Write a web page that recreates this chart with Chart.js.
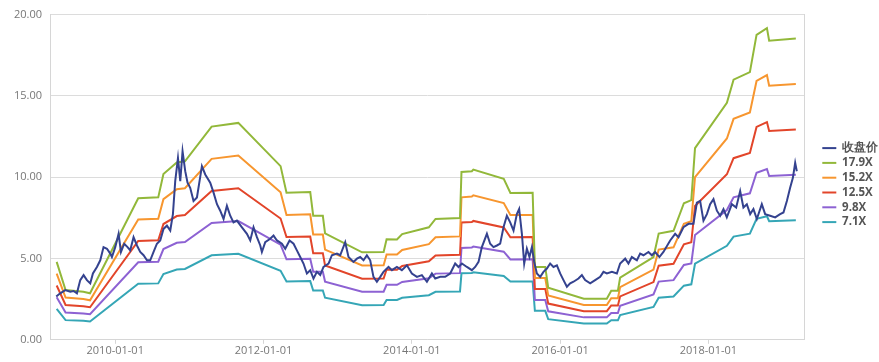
<!DOCTYPE html>
<html>
<head>
<meta charset="utf-8">
<script src="https://cdn.jsdelivr.net/npm/chart.js@4.4.1/dist/chart.umd.min.js"></script>
<style>
  body { margin: 0; background: #fff; }
</style>
</head>
<body>
<canvas id="peBand" width="879" height="362"></canvas>
<script>
// close price, x in decimal years
let closeDates = [2009.204, 2009.258, 2009.326, 2009.393, 2009.438, 2009.483, 2009.528, 2009.573, 2009.618, 2009.663,
  2009.699, 2009.753, 2009.798, 2009.842, 2009.888, 2009.933, 2009.955, 2010.000, 2010.045, 2010.077,
  2010.121, 2010.166, 2010.202, 2010.247, 2010.293, 2010.337, 2010.382, 2010.428, 2010.472, 2010.517,
  2010.562, 2010.607, 2010.651, 2010.697, 2010.742, 2010.778, 2010.809, 2010.846, 2010.877, 2010.908,
  2010.944, 2010.975, 2011.011, 2011.056, 2011.102, 2011.137, 2011.169, 2011.214, 2011.281, 2011.326,
  2011.372, 2011.416, 2011.461, 2011.506, 2011.551, 2011.595, 2011.641, 2011.709, 2011.776, 2011.821,
  2011.865, 2011.911, 2011.956, 2011.978, 2012.023, 2012.090, 2012.135, 2012.181, 2012.248, 2012.293,
  2012.351, 2012.405, 2012.450, 2012.495, 2012.539, 2012.585, 2012.630, 2012.674, 2012.720, 2012.765,
  2012.809, 2012.877, 2012.922, 2012.990, 2013.034, 2013.102, 2013.146, 2013.214, 2013.260, 2013.304,
  2013.349, 2013.394, 2013.439, 2013.483, 2013.529, 2013.574, 2013.618, 2013.686, 2013.732, 2013.799,
  2013.866, 2013.934, 2014.001, 2014.069, 2014.136, 2014.204, 2014.271, 2014.316, 2014.383, 2014.450,
  2014.518, 2014.585, 2014.630, 2014.676, 2014.743, 2014.810, 2014.855, 2014.900, 2014.945, 2015.013,
  2015.057, 2015.102, 2015.148, 2015.192, 2015.237, 2015.282, 2015.327, 2015.372, 2015.417, 2015.448,
  2015.485, 2015.516, 2015.552, 2015.587, 2015.620, 2015.651, 2015.687, 2015.732, 2015.776, 2015.822,
  2015.866, 2015.911, 2015.957, 2016.001, 2016.046, 2016.092, 2016.136, 2016.181, 2016.248, 2016.294,
  2016.338, 2016.406, 2016.473, 2016.541, 2016.585, 2016.631, 2016.699, 2016.766, 2016.810, 2016.878,
  2016.922, 2016.968, 2017.036, 2017.080, 2017.125, 2017.192, 2017.238, 2017.282, 2017.340, 2017.394,
  2017.485, 2017.552, 2017.597, 2017.664, 2017.732, 2017.799, 2017.845, 2017.889, 2017.934, 2017.980,
  2018.024, 2018.069, 2018.115, 2018.159, 2018.204, 2018.249, 2018.317, 2018.375, 2018.429, 2018.473,
  2018.519, 2018.564, 2018.608, 2018.654, 2018.721, 2018.766, 2018.833, 2018.901, 2018.968, 2019.013,
  2019.059, 2019.103, 2019.140, 2019.171, 2019.193];
let closePrices = [2.66, 2.86, 3.06, 2.96, 3.00, 2.86, 3.67, 3.98, 3.67, 3.47,
  4.08, 4.48, 4.89, 5.70, 5.60, 5.30, 5.09, 5.70, 6.52, 5.40,
  5.91, 5.70, 5.50, 6.31, 5.80, 5.40, 5.20, 4.89, 4.89, 5.40,
  5.91, 6.11, 6.82, 7.02, 6.72, 7.73, 9.76, 11.18, 9.76, 11.59,
  10.37, 9.66, 9.35, 8.54, 8.75, 9.76, 10.68, 10.17, 9.66, 9.05,
  8.34, 7.94, 7.43, 8.24, 7.63, 7.22, 7.33, 6.92, 6.52, 6.11,
  6.92, 6.31, 5.80, 5.40, 6.00, 6.21, 6.41, 6.11, 5.91, 5.60,
  6.11, 5.91, 5.50, 5.09, 4.69, 4.08, 4.28, 3.77, 4.18, 3.98,
  4.48, 4.69, 5.20, 5.30, 5.20, 6.00, 5.09, 4.79, 4.99, 5.09,
  4.89, 5.20, 4.89, 3.87, 3.57, 3.87, 4.18, 4.48, 4.28, 4.48,
  4.28, 4.58, 4.08, 3.87, 3.98, 3.57, 4.08, 3.77, 3.87, 3.87,
  4.08, 4.69, 4.48, 4.69, 4.48, 4.28, 4.48, 4.79, 5.70, 6.52,
  5.91, 5.70, 5.80, 5.91, 6.92, 7.63, 7.22, 6.72, 7.73, 8.04,
  6.52, 4.69, 5.60, 5.09, 5.70, 4.79, 4.08, 3.87, 4.18, 4.38,
  4.69, 4.48, 4.58, 4.08, 3.67, 3.26, 3.47, 3.57, 3.77, 3.98,
  3.67, 3.47, 3.67, 3.87, 4.18, 4.08, 4.18, 4.08, 4.69, 4.99,
  4.69, 5.09, 4.89, 5.30, 5.20, 5.40, 5.20, 5.40, 5.09, 5.40,
  6.11, 6.52, 6.31, 6.92, 7.13, 7.13, 8.44, 8.54, 7.33, 7.73,
  8.34, 8.65, 7.94, 7.63, 8.04, 7.53, 8.34, 8.14, 9.15, 8.14,
  8.34, 7.73, 8.04, 7.43, 8.34, 7.73, 7.63, 7.53, 7.73, 7.83,
  8.54, 9.35, 9.96, 10.88, 10.37];

// PE band lines, x in decimal years
let bandDates = [2009.21, 2009.33, 2009.57, 2009.66, 2010.31, 2010.58, 2010.65, 2010.83, 2010.94, 2011.30,
  2011.66, 2012.23, 2012.31, 2012.63, 2012.67, 2012.80, 2012.83, 2013.33, 2013.62, 2013.66,
  2013.80, 2013.87, 2014.23, 2014.32, 2014.65, 2014.67, 2014.81, 2014.83, 2015.24, 2015.33,
  2015.63, 2015.66, 2015.80, 2015.84, 2016.32, 2016.63, 2016.69, 2016.78, 2016.81, 2017.26,
  2017.33, 2017.53, 2017.67, 2017.77, 2017.82, 2018.25, 2018.34, 2018.56, 2018.65, 2018.79,
  2018.82, 2019.18];
let band179 = [4.79, 3.06, 2.96, 2.86, 8.71, 8.76, 10.19, 10.90, 10.98, 13.11,
  13.34, 10.68, 9.05, 9.09, 7.63, 7.63, 6.54, 5.38, 5.40, 6.18,
  6.17, 6.50, 6.92, 7.43, 7.49, 10.32, 10.37, 10.47, 9.90, 9.03,
  9.05, 4.48, 4.48, 3.20, 2.52, 2.52, 3.02, 3.02, 3.82, 5.09,
  6.53, 6.70, 8.40, 8.59, 11.79, 14.58, 16.00, 16.46, 18.75, 19.17,
  18.39, 18.53];
let band152 = [4.07, 2.60, 2.51, 2.43, 7.40, 7.44, 8.65, 9.26, 9.32, 11.13,
  11.33, 9.07, 7.68, 7.72, 6.48, 6.48, 5.55, 4.57, 4.59, 5.25,
  5.24, 5.52, 5.88, 6.31, 6.36, 8.76, 8.81, 8.89, 8.41, 7.67,
  7.68, 3.80, 3.80, 2.72, 2.14, 2.14, 2.56, 2.56, 3.24, 4.32,
  5.55, 5.69, 7.13, 7.29, 10.01, 12.38, 13.59, 13.98, 15.92, 16.28,
  15.62, 15.73];
let band125 = [3.34, 2.14, 2.07, 2.00, 6.08, 6.12, 7.12, 7.61, 7.67, 9.15,
  9.32, 7.46, 6.32, 6.35, 5.33, 5.33, 4.57, 3.76, 3.77, 4.32,
  4.31, 4.54, 4.83, 5.19, 5.23, 7.21, 7.24, 7.31, 6.91, 6.31,
  6.32, 3.13, 3.13, 2.23, 1.76, 1.76, 2.11, 2.11, 2.67, 3.55,
  4.56, 4.68, 5.87, 6.00, 8.23, 10.18, 11.17, 11.49, 13.09, 13.39,
  12.84, 12.94];
let band98 = [2.62, 1.68, 1.62, 1.57, 4.77, 4.80, 5.58, 5.97, 6.01, 7.18,
  7.30, 5.85, 4.95, 4.98, 4.18, 4.18, 3.58, 2.95, 2.96, 3.38,
  3.38, 3.56, 3.79, 4.07, 4.10, 5.65, 5.68, 5.73, 5.42, 4.94,
  4.95, 2.45, 2.45, 1.75, 1.38, 1.38, 1.65, 1.65, 2.09, 2.79,
  3.58, 3.67, 4.60, 4.70, 6.45, 7.98, 8.76, 9.01, 10.27, 10.50,
  10.07, 10.15];
let band71 = [1.90, 1.21, 1.17, 1.13, 3.45, 3.47, 4.04, 4.32, 4.36, 5.20,
  5.29, 4.24, 3.59, 3.61, 3.03, 3.03, 2.59, 2.13, 2.14, 2.45,
  2.45, 2.58, 2.74, 2.95, 2.97, 4.09, 4.11, 4.15, 3.93, 3.58,
  3.59, 1.78, 1.78, 1.27, 1.00, 1.00, 1.20, 1.20, 1.52, 2.02,
  2.59, 2.66, 3.33, 3.41, 4.68, 5.78, 6.35, 6.53, 7.44, 7.60,
  7.29, 7.35];

let xTicks = [2010, 2012, 2014, 2016, 2018];

function toPoints(xs, ys) {
  return xs.map((x, i) => ({ x: x, y: ys[i] }));
}

function lineSet(label, xs, ys, color) {
  return {
    label: label,
    data: toPoints(xs, ys),
    borderColor: color,
    backgroundColor: color,
    borderWidth: 2,
    pointRadius: 0,
    tension: 0
  };
}

let ctx = document.getElementById('peBand');
let peChart = new Chart(ctx, {
  type: 'line',
  data: {
    datasets: [
      lineSet('收盘价', closeDates, closePrices, '#34428f'),
      lineSet('17.9X', bandDates, band179, '#92b83a'),
      lineSet('15.2X', bandDates, band152, '#f7962f'),
      lineSet('12.5X', bandDates, band125, '#e2452a'),
      lineSet('9.8X', bandDates, band98, '#8d62d3'),
      lineSet('7.1X', bandDates, band71, '#35a6b6')
    ]
  },
  options: {
    responsive: false,
    animation: false,
    layout: { padding: { top: 1, right: 0, left: 2, bottom: 5 } },
    plugins: {
      tooltip: { enabled: false },
      legend: {
        position: 'right',
        maxWidth: 60,
        // blank title only nudges the items down a little
        title: { display: true, text: ' ', font: { size: 1 }, padding: { top: 0, bottom: 11 } },
        labels: {
          usePointStyle: true,
          pointStyle: 'line',
          pointStyleWidth: 14,
          boxHeight: 11,
          padding: 3.3,
          color: '#555',
          font: { family: 'Open Sans', size: 11.5, weight: 'bold' }
        }
      }
    },
    scales: {
      x: {
        type: 'linear',
        min: 2009.12,
        max: 2019.29,
        afterBuildTicks: axis => { axis.ticks = xTicks.map(v => ({ value: v })); },
        ticks: {
          callback: v => v + '-01-01',
          color: '#777',
          maxRotation: 0,
          padding: 0,
          font: { family: 'Open Sans', size: 11 }
        },
        grid: { drawOnChartArea: false, tickLength: 4, color: '#d6d6d6' },
        border: { color: '#d6d6d6' }
      },
      y: {
        min: 0,
        max: 20,
        afterFit: axis => { axis.width = 48; },
        ticks: {
          stepSize: 5,
          callback: v => v.toFixed(2),
          color: '#777',
          padding: 8,
          font: { family: 'Open Sans', size: 11 }
        },
        grid: { color: '#dcdcdc', drawTicks: false },
        border: { color: '#d6d6d6' }
      },
      // empty right axis: closes the plot box and leaves the gap before the legend
      yRight: {
        position: 'right',
        afterFit: axis => { axis.width = 15; },
        ticks: { display: false },
        grid: { drawOnChartArea: false, drawTicks: false },
        border: { color: '#d6d6d6' }
      }
    }
  }
});
</script>
</body>
</html>
